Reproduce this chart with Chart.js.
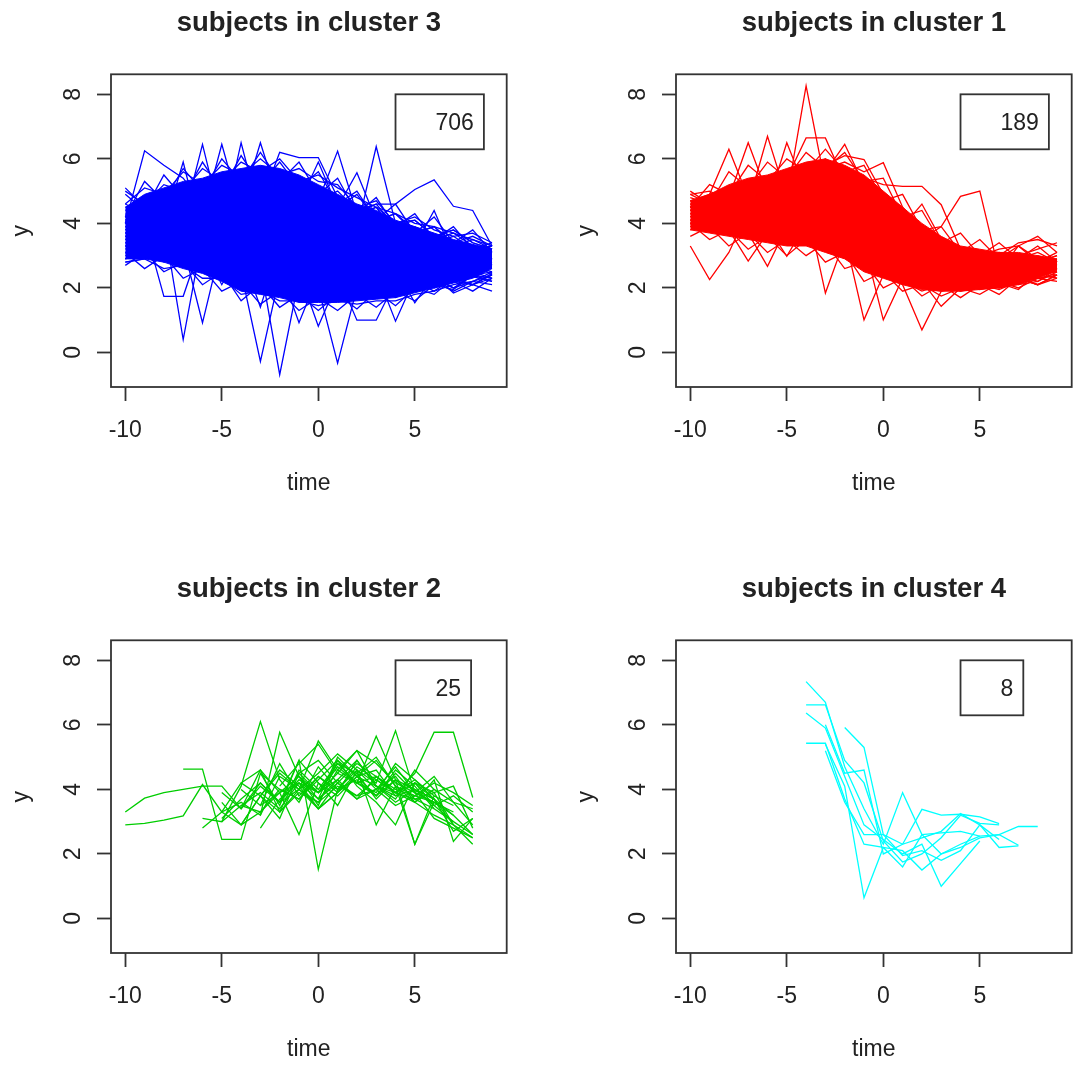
<!DOCTYPE html>
<html>
<head>
<meta charset="utf-8">
<script src="https://cdn.jsdelivr.net/npm/chart.js@4.4.0/dist/chart.umd.min.js"></script>
<style>
  body { margin: 0; background: #fff; }
  canvas { position: absolute; }
</style>
</head>
<body>
<canvas id="panel3" width="512" height="512" style="left:0px;top:0px"></canvas>
<canvas id="panel1" width="512" height="512" style="left:565px;top:0px"></canvas>
<canvas id="panel2" width="512" height="512" style="left:0px;top:566px"></canvas>
<canvas id="panel4" width="512" height="512" style="left:565px;top:566px"></canvas>
<script>
// axes (same on every panel)
const xTicks = [-10, -5, 0, 5];
const yTicks = [0, 2, 4, 6, 8];
const xRange = [-10.74, 9.76];
const yRange = [-1.07, 8.62];

// cluster sizes shown in the legend boxes
const clusterSizes = { 1: 189, 2: 25, 3: 706, 4: 8 };
const clusterColors = { 1: '#ff0000', 2: '#00cd00', 3: '#0000ff', 4: '#00ffff' };

// cluster 3: dense core (t = -10..9) plus some individual subjects
const c3CoreHigh = [4.5, 4.9, 5.1, 5.3, 5.4, 5.6, 5.7, 5.8, 5.7, 5.5, 5.2, 4.9, 4.6, 4.4, 4.1, 3.9, 3.7, 3.5, 3.35, 3.2];
const c3CoreLow  = [2.9, 2.9, 2.8, 2.6, 2.45, 2.2, 1.9, 1.8, 1.7, 1.55, 1.55, 1.55, 1.6, 1.65, 1.7, 1.85, 2.0, 2.15, 2.3, 2.6];
const c3Start = [-10, -10, -10, -10, -10, -10, -10, -10, -10, -10, -10, -10, -10, -10, -10, -10, -10, -10, -10, -10,
                 -10, -10, -10, -10, -10, -10, -10, -10, -10, -10, -10, -10, -10, -10, -10, -10, -10];
const c3Lines = [
  [4.0, 6.25, 5.8, 5.4, 4.6, 4.2, 3.9, 4.3, 3.6, 3.8, 3.4, 3.1, 3.5, 3.0, 2.9, 3.2, 2.8, 3.0, 2.7, 2.9],
  [3.6, 3.9, 1.74, 1.74, 3.5, 3.2, 4.1, 3.0, 3.6, 2.9, 3.3, 2.7, 3.1, 2.6, 3.0, 2.5, 2.8, 2.6, 2.9, 2.7],
  [3.8, 4.2, 3.9, 5.9, 3.5, 4.8, 3.2, 4.4, 3.0, 3.9, 3.4, 3.0, 3.6, 2.8, 3.1, 2.7, 3.0, 2.5, 2.8, 2.6],
  [3.5, 3.7, 4.0, 0.4, 3.6, 3.1, 4.2, 3.5, 2.9, 3.7, 3.1, 3.3, 2.8, 3.2, 2.9, 2.6, 2.9, 3.1, 2.6, 2.8],
  [4.2, 3.9, 4.5, 4.1, 6.45, 4.0, 3.7, 4.6, 3.9, 3.3, 3.8, 3.5, 3.0, 3.4, 3.1, 2.8, 3.2, 2.9, 3.0, 2.7],
  [3.2, 3.4, 3.0, 3.3, 0.92, 3.4, 2.6, 3.0, 3.5, 2.4, 3.1, 2.8, 2.5, 2.9, 2.4, 2.7, 2.3, 2.6, 2.4, 2.5],
  [4.1, 4.4, 4.0, 4.6, 4.2, 6.45, 4.3, 5.0, 4.1, 4.6, 3.8, 3.9, 3.4, 3.7, 3.2, 3.5, 3.1, 3.3, 3.0, 3.1],
  [3.9, 3.6, 4.1, 3.7, 4.3, 3.8, 6.5, 4.2, 4.8, 3.9, 4.4, 3.6, 3.9, 3.3, 3.6, 3.0, 3.4, 3.2, 2.9, 3.0],
  [4.3, 4.0, 4.4, 4.8, 4.2, 4.9, 4.5, 6.5, 4.6, 4.9, 4.1, 4.4, 3.8, 3.5, 3.9, 3.3, 3.5, 3.1, 3.2, 2.9],
  [3.7, 4.1, 3.8, 4.3, 4.7, 4.4, 5.1, 4.6, 6.2, 6.04, 6.04, 4.8, 4.2, 4.5, 3.7, 3.9, 3.4, 3.6, 3.2, 3.3],
  [3.3, 3.0, 3.5, 3.1, 2.8, 3.3, 2.5, -0.28, 2.4, 2.9, 2.2, 2.6, 2.1, 2.5, 2.3, 2.0, 2.4, 2.2, 2.5, 2.3],
  [3.4, 3.1, 2.9, 3.2, 2.7, 3.0, 2.4, 2.7, -0.69, 2.3, 2.0, 2.5, 1.9, 2.2, 2.4, 2.1, 2.3, 2.0, 2.2, 2.4],
  [3.1, 3.3, 3.0, 2.8, 3.1, 2.6, 2.9, 2.3, 2.6, 0.92, 2.4, 2.0, 2.3, 1.8, 2.2, 2.0, 2.4, 2.2, 2.1, 2.3],
  [3.6, 3.2, 3.4, 2.9, 3.2, 2.7, 2.4, 2.8, 2.2, 2.5, 0.81, 2.2, 1.9, 2.1, 1.7, 2.0, 2.2, 1.9, 2.2, 2.1],
  [3.0, 3.2, 2.9, 3.1, 2.6, 2.9, 2.3, 2.6, 2.1, 2.4, 2.0, -0.33, 2.0, 1.8, 2.1, 1.9, 2.3, 2.0, 2.4, 2.2],
  [4.0, 3.7, 4.2, 3.9, 4.5, 4.1, 4.8, 4.3, 5.0, 4.6, 5.9, 4.5, 4.9, 4.1, 4.3, 3.8, 3.5, 3.7, 3.3, 3.1],
  [4.4, 4.6, 4.1, 4.7, 4.3, 5.0, 4.5, 4.9, 4.4, 5.2, 4.7, 6.24, 4.3, 4.6, 3.9, 4.1, 3.6, 3.8, 3.4, 3.2],
  [3.8, 4.0, 3.6, 4.1, 3.8, 4.3, 4.0, 4.5, 4.1, 4.6, 4.2, 4.5, 5.57, 4.1, 4.3, 3.7, 3.9, 3.4, 3.6, 3.3],
  [3.5, 3.8, 3.4, 3.9, 3.6, 4.0, 3.7, 4.2, 3.8, 4.3, 3.9, 4.2, 3.8, 6.38, 4.0, 3.7, 3.9, 3.3, 3.5, 3.2],
  [2.9, 3.1, 2.8, 3.0, 2.7, 2.9, 2.5, 2.8, 2.3, 2.6, 2.1, 2.4, 1.0, 1.0, 2.2, 2.2, 1.9, 2.3, 2.1, 2.4],
  [3.4, 3.6, 3.2, 3.5, 3.0, 3.3, 2.8, 3.1, 2.6, 2.9, 2.4, 2.7, 2.3, 2.5, 0.97, 2.3, 2.0, 2.2, 1.9, 2.3],
  [4.6, 4.3, 4.7, 4.4, 4.9, 4.5, 5.2, 4.8, 5.4, 5.0, 4.7, 5.0, 4.4, 4.6, 4.6, 5.05, 5.35, 4.53, 4.4, 3.3],
  [3.9, 4.2, 3.8, 4.0, 3.5, 3.8, 3.3, 3.6, 3.1, 3.4, 2.9, 3.2, 2.8, 3.0, 2.6, 1.54, 2.4, 1.84, 2.1, 1.9],
  [5.1, 4.5, 4.3, 4.6, 4.1, 4.4, 3.9, 4.2, 3.7, 4.0, 3.5, 3.8, 3.3, 3.6, 3.1, 3.3, 4.4, 3.0, 3.2, 2.9],
  [3.3, 3.5, 3.8, 3.4, 3.9, 3.5, 4.0, 3.6, 3.8, 3.3, 3.6, 3.2, 3.4, 3.0, 3.2, 2.9, 3.0, 2.8, 2.9, 2.7],
  [2.8, 2.9, 3.3, 3.6, 3.0, 3.4, 3.1, 1.4, 3.3, 2.8, 3.2, 2.7, 3.0, 2.6, 2.8, 2.5, 2.7, 2.6, 2.8, 2.4],
  [4.0, 4.2, 4.4, 4.2, 4.6, 4.3, 4.7, 4.4, 4.5, 4.1, 4.2, 3.9, 3.6, 3.8, 3.4, 3.6, 3.2, 3.4, 3.1, 3.3],
  [3.7, 3.5, 3.2, 3.6, 3.3, 2.1, 3.2, 2.9, 3.4, 2.7, 3.0, 2.6, 2.9, 2.4, 2.7, 2.3, 2.6, 2.4, 2.7, 2.5],
  [4.5, 4.7, 4.4, 4.9, 4.6, 5.2, 4.8, 5.3, 4.9, 5.1, 4.6, 4.8, 4.3, 4.5, 4.0, 4.2, 3.8, 3.6, 3.7, 3.4],
  [2.9, 3.2, 3.0, 3.3, 2.9, 3.2, 2.8, 3.1, 2.7, 3.0, 2.6, 2.9, 2.5, 2.8, 2.4, 2.6, 2.3, 2.5, 2.35, 2.2],
  [4.9, 4.4, 5.5, 4.8, 5.9, 5.0, 6.1, 5.2, 5.9, 5.1, 5.6, 4.6, 5.0, 4.1, 4.6, 3.7, 4.2, 3.4, 3.8, 3.1],
  [4.2, 5.3, 4.7, 5.7, 5.0, 6.0, 5.3, 6.2, 5.3, 5.9, 4.9, 5.4, 4.3, 4.8, 3.9, 4.3, 3.5, 3.9, 3.2, 3.4],
  [5.0, 4.6, 5.2, 5.0, 5.7, 5.3, 5.9, 5.6, 6.0, 5.3, 5.5, 5.1, 4.8, 4.5, 4.3, 4.0, 3.9, 3.7, 3.5, 3.3],
  [4.6, 5.1, 4.9, 5.6, 5.2, 5.8, 5.5, 6.0, 5.5, 5.7, 5.3, 5.2, 4.5, 4.7, 4.0, 4.1, 3.6, 3.8, 3.4, 3.2],
  [2.7, 3.1, 2.5, 2.8, 2.1, 2.5, 1.6, 2.1, 1.4, 1.8, 1.3, 1.8, 1.35, 1.9, 1.45, 2.0, 1.8, 2.3, 2.1, 2.45],
  [3.1, 2.6, 3.0, 2.3, 2.6, 1.9, 2.2, 1.5, 1.9, 1.3, 1.7, 1.3, 1.8, 1.4, 1.9, 1.6, 2.1, 1.95, 2.4, 2.3],
  [2.8, 2.9, 2.6, 2.7, 2.3, 2.3, 1.8, 1.9, 1.6, 1.6, 1.45, 1.6, 1.5, 1.6, 1.6, 1.8, 1.9, 2.1, 2.2, 2.5]
];

// cluster 1: dense core (t = -10..9) plus some individual subjects
const c1CoreHigh = [4.7, 4.9, 5.2, 5.4, 5.5, 5.7, 5.9, 6.0, 5.8, 5.5, 5.0, 4.5, 4.0, 3.6, 3.3, 3.2, 3.1, 3.1, 3.0, 2.9];
const c1CoreLow  = [3.8, 3.7, 3.6, 3.5, 3.4, 3.3, 3.3, 3.1, 2.9, 2.5, 2.3, 2.1, 1.95, 1.9, 1.9, 1.95, 2.0, 2.1, 2.3, 2.55];
const c1Start = [-10, -10, -10, -10, -10, -10, -10, -10, -10, -10, -10, -10, -10, -10, -10, -10, -10, -10, -10, -10,
                 -10, -10, -10, -10, -10, -10, -10, -10, -10];
const c1Lines = [
  [4.4, 4.9, 6.3, 4.8, 5.2, 4.6, 5.5, 4.9, 5.3, 4.4, 3.8, 3.4, 3.0, 2.8, 2.6, 2.7, 2.5, 2.8, 2.6, 2.7],
  [4.6, 4.3, 4.8, 6.5, 4.9, 5.3, 4.7, 5.6, 4.8, 4.1, 3.6, 3.2, 2.9, 2.7, 2.5, 2.4, 2.6, 2.5, 2.7, 2.9],
  [4.2, 4.5, 4.1, 4.6, 6.7, 4.8, 5.1, 4.6, 5.0, 4.3, 3.5, 3.0, 2.6, 2.8, 2.4, 2.6, 2.3, 2.5, 2.4, 2.6],
  [4.5, 4.7, 4.4, 4.9, 4.6, 6.5, 5.0, 5.4, 4.7, 4.5, 3.9, 3.3, 2.8, 2.6, 2.7, 2.5, 2.8, 2.6, 2.9, 2.8],
  [4.8, 4.6, 5.0, 4.7, 5.1, 4.8, 8.26, 5.2, 5.6, 4.9, 4.2, 3.6, 3.1, 2.9, 2.7, 2.6, 2.8, 2.7, 3.0, 2.8],
  [4.3, 4.7, 4.9, 5.3, 5.0, 5.4, 6.65, 6.65, 5.3, 5.0, 4.3, 3.7, 3.2, 2.9, 2.6, 2.8, 2.5, 2.7, 2.6, 2.5],
  [4.0, 4.2, 4.6, 4.4, 4.8, 5.0, 5.3, 5.6, 6.45, 5.2, 4.6, 4.0, 3.4, 3.0, 2.8, 2.6, 2.9, 2.7, 2.8, 3.0],
  [4.7, 4.5, 4.9, 4.6, 5.1, 5.3, 5.5, 5.8, 6.1, 5.98, 4.9, 4.2, 3.6, 3.1, 2.9, 2.7, 2.6, 2.8, 2.7, 2.6],
  [4.1, 4.4, 4.3, 4.7, 4.9, 5.1, 5.4, 5.7, 5.9, 5.6, 5.88, 4.5, 3.8, 3.3, 3.0, 2.8, 2.7, 2.9, 3.1, 2.8],
  [4.9, 4.6, 4.8, 5.0, 5.2, 5.4, 5.1, 5.5, 5.3, 5.4, 5.2, 5.15, 5.15, 4.58, 3.2, 2.9, 2.6, 2.8, 2.9, 2.7],
  [4.4, 4.2, 4.5, 4.7, 4.9, 5.2, 4.9, 5.3, 5.0, 4.6, 4.1, 3.6, 3.5, 3.9, 4.84, 5.0, 2.5, 3.3, 2.9, 2.7],
  [3.3, 2.26, 3.1, 4.4, 3.9, 4.3, 4.1, 4.6, 4.0, 3.8, 3.2, 2.9, 2.5, 2.3, 2.2, 2.4, 2.1, 2.3, 2.5, 2.4],
  [3.9, 4.1, 3.8, 2.83, 3.7, 4.0, 3.8, 4.2, 3.9, 3.5, 3.0, 2.7, 2.4, 2.2, 2.1, 2.0, 2.2, 2.3, 2.1, 2.4],
  [4.1, 3.8, 4.0, 3.7, 2.67, 3.9, 3.6, 4.0, 3.7, 3.3, 2.9, 2.5, 2.2, 2.0, 2.1, 1.95, 2.1, 2.2, 2.4, 2.3],
  [4.3, 4.0, 4.2, 4.1, 3.9, 2.98, 4.0, 3.8, 3.6, 3.2, 2.8, 2.4, 2.1, 2.0, 2.2, 2.0, 2.3, 2.1, 2.2, 2.5],
  [4.0, 4.3, 4.1, 4.5, 4.2, 4.4, 4.6, 1.84, 3.5, 3.0, 2.6, 2.3, 2.0, 1.9, 2.0, 2.1, 1.95, 2.2, 2.3, 2.2],
  [4.5, 4.2, 4.6, 4.3, 4.7, 4.5, 4.8, 4.4, 3.6, 1.01, 2.4, 2.2, 1.9, 2.1, 1.9, 2.0, 2.2, 2.0, 2.3, 2.4],
  [4.2, 4.4, 4.7, 4.5, 4.9, 4.6, 5.0, 4.5, 4.1, 3.4, 1.01, 2.3, 2.0, 2.2, 1.9, 2.1, 2.0, 2.3, 2.1, 2.3],
  [3.8, 4.0, 4.3, 4.1, 4.4, 4.2, 4.6, 4.3, 3.9, 3.2, 2.6, 2.1, 0.7, 1.9, 2.1, 2.3, 2.0, 2.2, 2.4, 2.5],
  [4.4, 4.6, 4.3, 4.8, 4.5, 4.9, 4.7, 5.1, 4.6, 3.9, 3.1, 2.6, 2.2, 1.43, 2.0, 2.2, 2.1, 2.4, 2.2, 2.6],
  [4.7, 4.9, 5.1, 4.8, 5.2, 5.0, 5.5, 5.2, 5.4, 5.0, 4.6, 4.3, 3.9, 3.4, 3.1, 3.0, 3.2, 3.3, 3.6, 3.1],
  [4.5, 4.3, 4.6, 5.0, 4.8, 5.3, 5.0, 5.6, 5.2, 4.7, 4.2, 3.8, 3.3, 3.0, 2.8, 2.9, 3.0, 3.4, 3.5, 3.3],
  [4.9, 5.0, 4.7, 5.1, 4.9, 5.4, 5.2, 5.7, 5.1, 4.8, 4.1, 3.6, 3.1, 2.8, 2.7, 2.9, 3.1, 3.0, 3.2, 3.4],
  [4.6, 4.8, 4.5, 4.9, 5.0, 5.2, 5.6, 6.0, 5.5, 5.1, 4.4, 3.9, 4.6, 3.5, 2.9, 2.7, 2.6, 2.5, 2.7, 2.6],
  [3.9, 4.1, 4.0, 4.3, 4.1, 4.5, 4.3, 4.7, 4.2, 3.7, 3.3, 2.8, 2.5, 2.3, 2.4, 2.2, 2.4, 2.6, 2.8, 3.0],
  [5.0, 4.6, 5.6, 5.1, 5.9, 5.4, 6.2, 5.7, 6.2, 5.3, 5.4, 4.2, 4.4, 3.4, 3.7, 3.0, 3.4, 2.9, 3.3, 2.8],
  [4.5, 5.2, 4.9, 5.8, 5.3, 6.0, 5.6, 6.3, 5.6, 5.8, 4.7, 4.9, 3.8, 3.9, 3.1, 3.5, 2.9, 3.3, 2.8, 3.1],
  [3.6, 3.9, 3.3, 3.7, 3.1, 3.5, 3.0, 3.4, 2.6, 2.8, 2.0, 2.3, 1.75, 2.1, 1.7, 2.1, 1.8, 2.3, 2.1, 2.4],
  [4.0, 3.5, 3.8, 3.2, 3.6, 3.0, 3.5, 2.8, 3.1, 2.2, 2.5, 1.9, 2.1, 1.75, 2.0, 1.8, 2.15, 1.95, 2.5, 2.3]
];

// cluster 2: all 25 subjects
const c2Start = [-10, -10, -7, -6, -6, -5, -5, -4, -4, -3, -4, -3, -5, -2, -4, -3, -5, -2, -3, -1, -4, -2, -5, -3, 0];
const c2Lines = [
  [3.3, 3.73, 3.9, 4.0, 4.1, 4.1, 3.4, 4.2, 3.6, 4.5, 3.9, 4.3, 3.7, 4.0, 3.5, 3.8],
  [2.9, 2.95, 3.05, 3.18, 4.15, 3.3, 2.9, 3.8, 3.3, 4.6, 4.0, 4.8, 4.2, 4.4, 3.9, 3.6, 3.2, 2.9],
  [4.63, 4.63, 2.45, 2.45, 4.5, 3.5, 4.9, 4.2, 3.8, 4.4, 4.1, 3.9, 4.2, 3.7],
  [3.1, 3.0, 4.1, 6.1, 4.3, 3.6, 4.7, 4.0, 4.3, 3.8, 4.5, 3.9, 3.6],
  [2.8, 3.3, 3.6, 3.2, 5.77, 4.4, 3.9, 4.5, 5.2, 4.1, 3.8, 4.0, 3.7, 3.2, 2.6],
  [3.1, 3.7, 4.2, 3.6, 4.9, 1.52, 4.0, 4.7, 4.3, 3.9, 3.7, 3.4],
  [3.6, 2.9, 3.8, 4.5, 4.0, 5.5, 4.6, 5.2, 4.8, 4.2, 3.9, 3.1, 2.8, 2.5],
  [3.4, 4.1, 3.6, 4.3, 3.9, 4.7, 4.2, 5.65, 4.3, 3.7, 3.9, 2.9, 2.3],
  [4.0, 3.5, 4.8, 3.8, 4.4, 4.0, 4.6, 4.2, 5.82, 3.9, 3.6, 3.3],
  [3.2, 4.4, 4.0, 3.6, 4.1, 3.8, 4.3, 3.9, 4.5, 5.77, 5.77, 3.75],
  [2.9, 3.3, 3.9, 2.6, 4.2, 3.5, 4.6, 2.9, 4.1, 2.3, 3.8, 3.5],
  [3.8, 3.1, 4.5, 4.9, 4.2, 3.8, 4.0, 4.4, 3.6, 4.3, 2.39, 3.1],
  [3.0, 3.5, 3.3, 4.0, 3.7, 4.4, 3.9, 4.9, 4.1, 3.6, 4.0, 3.7, 2.9, 2.5],
  [4.1, 4.8, 5.4, 4.5, 4.2, 3.8, 4.3, 4.0, 3.5, 3.8, 3.3],
  [3.5, 3.9, 3.4, 4.2, 3.7, 5.0, 4.4, 4.6, 3.8, 4.2, 3.5, 3.0],
  [4.5, 4.0, 3.7, 4.3, 4.9, 4.1, 3.6, 2.9, 4.2, 3.9, 4.1, 2.8],
  [3.3, 4.2, 3.8, 4.6, 4.1, 3.4, 3.9, 4.5, 3.7, 4.3, 2.3, 3.6, 3.2],
  [3.6, 4.0, 4.5, 5.1, 4.6, 4.0, 4.7, 3.9, 4.4, 3.6, 3.4],
  [2.8, 3.7, 4.2, 3.9, 4.8, 4.5, 5.0, 4.1, 3.6, 4.0],
  [4.4, 3.5, 4.9, 4.4, 3.8, 4.6, 4.1, 3.4, 3.0, 2.6],
  [4.2, 4.6, 3.3, 4.0, 3.4, 4.2, 3.7, 4.4, 4.0, 3.8, 3.6],
  [3.3, 3.9, 3.6, 4.6, 4.2, 3.9, 4.8, 4.3, 3.7, 2.7, 3.1],
  [3.9, 3.4, 4.6, 3.9, 4.4, 3.7, 4.2, 4.8, 4.4, 3.9, 4.3, 3.8],
  [3.5, 3.9, 4.2, 3.4, 3.9, 4.4, 4.9, 4.1, 3.8, 4.2, 3.9, 3.5],
  [3.7, 4.3, 4.9, 4.1, 3.7, 4.6, 4.0, 3.6, 2.9]
];

// cluster 4: all 8 subjects
const c4Start = [-4, -4, -4, -4, -2, -3, -3, -3];
const c4Lines = [
  [7.34, 6.7, 4.7, 3.4, 2.3, 3.9, 2.6, 2.65, 2.7, 2.55, 2.6, 2.27],
  [6.62, 6.62, 4.9, 4.2, 2.4, 1.75, 2.0, 2.5, 3.2, 2.95, 2.9],
  [6.37, 5.9, 4.4, 2.9, 2.45, 2.0, 2.3, 1.0, 1.7, 2.4],
  [5.43, 5.43, 3.7, 2.3, 2.2, 1.6, 2.6, 2.0, 2.2, 2.5, 2.6, 2.85, 2.85],
  [5.92, 5.3, 2.6, 2.3, 3.38, 3.2, 3.23, 3.15, 2.94],
  [5.4, 4.1, 0.64, 2.2, 2.1, 1.5, 2.0, 2.3, 2.55],
  [6.0, 4.5, 4.6, 2.0, 2.3, 2.5, 2.7, 3.25, 2.9, 2.45],
  [5.2, 3.6, 2.6, 2.6, 1.95, 2.1, 1.8, 2.1, 2.9, 2.2, 2.25]
];

const FONT = '"Liberation Sans", Arial, sans-serif';
const INK = '#222';

// draws the R-like frame, tick labels, titles and the count box
const rFrame = {
    id: 'rFrame',
    afterDraw(chart, args, opts) {
        const ctx = chart.ctx;
        const a = chart.chartArea;
        const xs = chart.scales.x;
        const ys = chart.scales.y;
        const midX = (a.left + a.right) / 2;
        ctx.save();

        ctx.strokeStyle = '#333';
        ctx.lineWidth = 1.8;
        ctx.strokeRect(a.left, a.top, a.right - a.left, a.bottom - a.top);

        ctx.fillStyle = INK;
        ctx.font = '23px ' + FONT;
        ctx.textAlign = 'center';
        ctx.textBaseline = 'alphabetic';
        xTicks.forEach(v => ctx.fillText(String(v), xs.getPixelForValue(v), 437));
        yTicks.forEach(v => {
            ctx.save();
            ctx.translate(80, ys.getPixelForValue(v));
            ctx.rotate(-Math.PI / 2);
            ctx.fillText(String(v), 0, 0);
            ctx.restore();
        });

        ctx.fillText('time', midX, 490);
        ctx.save();
        ctx.translate(27.5, (a.top + a.bottom) / 2);
        ctx.rotate(-Math.PI / 2);
        ctx.fillText('y', 0, 0);
        ctx.restore();

        ctx.font = 'bold 27.5px ' + FONT;
        ctx.fillText('subjects in cluster ' + opts.cluster, midX, 30.5);

        // count box, anchored at (4, 8)
        ctx.font = '23px ' + FONT;
        const label = String(opts.size);
        const w = ctx.measureText(label).width + 50;
        const bx = xs.getPixelForValue(4);
        const by = ys.getPixelForValue(8);
        ctx.fillStyle = '#fff';
        ctx.fillRect(bx, by, w, 55);
        ctx.strokeRect(bx, by, w, 55);
        ctx.fillStyle = INK;
        ctx.textAlign = 'right';
        ctx.fillText(label, bx + w - 10, by + 36);
        ctx.restore();
    }
};

function axis(range, ticks, fit) {
    return {
        type: 'linear',
        bounds: 'data',
        min: range[0],
        max: range[1],
        afterBuildTicks: s => { s.ticks = ticks.map(v => ({ value: v })); },
        afterFit: fit,
        grid: { drawOnChartArea: false, drawTicks: true, tickLength: 14, tickWidth: 1.8, tickColor: '#333' },
        border: { display: false },
        ticks: { display: false }
    };
}

function series(start, values) {
    return values.map((v, i) => ({ x: start + i, y: v }));
}

function drawPanel(canvasId, cluster, starts, lines, coreHigh, coreLow) {
    const colour = clusterColors[cluster];
    const datasets = [];

    if (coreHigh) {
        datasets.push({ data: series(-10, coreHigh), borderColor: colour, borderWidth: 1, backgroundColor: colour, fill: '+1' });
        datasets.push({ data: series(-10, coreLow), borderColor: colour, borderWidth: 1, fill: false });
    }
    lines.forEach((vals, i) => {
        datasets.push({ data: series(starts[i], vals), borderColor: colour, borderWidth: 1.3, fill: false });
    });

    new Chart(document.getElementById(canvasId), {
        type: 'line',
        data: { datasets: datasets },
        options: {
            responsive: false,
            animation: false,
            events: [],
            elements: { point: { radius: 0 }, line: { tension: 0 } },
            layout: { padding: { top: 74.3, right: 5.3, left: 0, bottom: 0 } },
            scales: {
                x: axis(xRange, xTicks, s => { s.height = 125; }),
                y: axis(yRange, yTicks, s => { s.width = 111; })
            },
            plugins: {
                legend: { display: false },
                tooltip: { enabled: false },
                rFrame: { cluster: cluster, size: clusterSizes[cluster] }
            }
        },
        plugins: [rFrame]
    });
}

drawPanel('panel3', 3, c3Start, c3Lines, c3CoreHigh, c3CoreLow);
drawPanel('panel1', 1, c1Start, c1Lines, c1CoreHigh, c1CoreLow);
drawPanel('panel2', 2, c2Start, c2Lines, null, null);
drawPanel('panel4', 4, c4Start, c4Lines, null, null);
</script>
</body>
</html>
